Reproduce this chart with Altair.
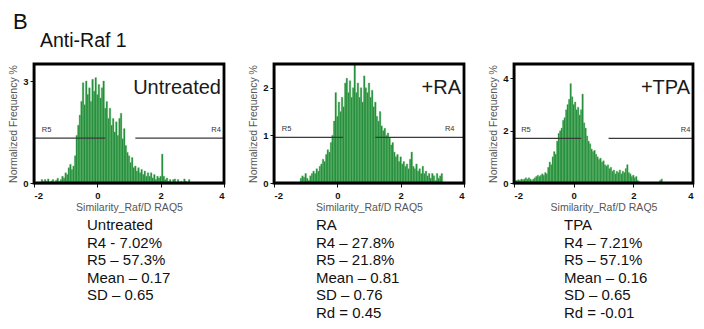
import altair as alt
import pandas as pd

FONT = "Liberation Sans"

panel_names = ["Untreated", "+RA", "+TPA"]
stat_lines = [
    ["Untreated", "R4 - 7.02%", "R5 – 57.3%", "Mean – 0.17", "SD – 0.65"],
    ["RA", "R4 – 27.8%", "R5 – 21.8%", "Mean – 0.81", "SD – 0.76", "Rd = 0.45"],
    ["TPA", "R4 – 7.21%", "R5 – 57.1%", "Mean – 0.16", "SD – 0.65", "Rd = -0.01"],
]
y_max = [3.5, 2.5, 4.55]
y_ticks = [[0, 1, 2, 3], [0, 0.5, 1, 1.5, 2, 2.5], [0, 1, 2, 3, 4]]
x_ticks = [-2, -1, 0, 1, 2, 3, 4]
x_domain = [-2, 4]
r5_span = [[-2, 0.25], [-2, 0.18], [-2, 0.25]]
r4_span = [[1.2, 4], [1.2, 4], [1.17, 4]]
gate_level = [1.32, 0.96, 1.71]
r5_label_x = [-1.6, -1.6, -1.6]
r4_label_x = [3.75, 3.55, 3.75]
stat_dx = [53, 42, 50]
bin_width = 0.05

untreated_x = [-1.75, -1.70, -1.65, -1.60, -1.55, -1.50, -1.45, -1.40, -1.35, -1.30,
               -1.25, -1.20, -1.15, -1.10, -1.05, -1.00, -0.95, -0.90, -0.85, -0.80,
               -0.75, -0.70, -0.65, -0.60, -0.55, -0.50, -0.45, -0.40, -0.35, -0.30,
               -0.25, -0.20, -0.15, -0.10, -0.05, 0.00, 0.05, 0.10, 0.15, 0.20,
               0.25, 0.30, 0.35, 0.40, 0.45, 0.50, 0.55, 0.60, 0.65, 0.70,
               0.75, 0.80, 0.85, 0.90, 0.95, 1.00, 1.05, 1.10, 1.15, 1.20,
               1.25, 1.30, 1.35, 1.40, 1.45, 1.50, 1.55, 1.60, 1.65, 1.70,
               1.75, 1.80, 1.85, 1.90, 1.95, 2.00, 2.05, 2.10, 2.15, 2.20,
               2.25, 2.30, 2.40, 2.45, 2.55, 2.65, 2.75, 2.80, 2.90]
untreated_freq = [0.10, 0.04, 0.10, 0.05, 0.12, 0.03, 0.06, 0.10, 0.03, 0.08,
                  0.14, 0.05, 0.10, 0.20, 0.15, 0.30, 0.25, 0.45, 0.55, 0.40,
                  0.50, 0.80, 1.40, 1.70, 2.00, 2.40, 2.95, 2.30, 3.00, 2.60,
                  2.80, 2.40, 3.05, 2.70, 3.10, 2.60, 2.90, 2.50, 2.80, 3.00,
                  2.20, 2.40, 1.90, 2.20, 1.70, 1.90, 1.50, 1.80, 1.40, 1.90,
                  2.05, 1.30, 1.60, 1.10, 0.90, 0.80, 0.60, 0.75, 0.45, 0.50,
                  0.35, 0.45, 0.30, 0.40, 0.25, 0.35, 0.20, 0.30, 0.20, 0.30,
                  0.15, 0.25, 0.10, 0.20, 0.15, 0.20, 0.85, 0.20, 0.10, 0.15,
                  0.05, 0.10, 0.10, 0.12, 0.10, 0.05, 0.12, 0.05, 0.10]

ra_x = [-1.15, -1.10, -1.05, -1.00, -0.95, -0.90, -0.85, -0.80, -0.75, -0.70,
        -0.65, -0.60, -0.55, -0.50, -0.45, -0.40, -0.35, -0.30, -0.25, -0.20,
        -0.15, -0.10, -0.05, 0.00, 0.05, 0.10, 0.15, 0.20, 0.25, 0.30,
        0.35, 0.40, 0.45, 0.50, 0.55, 0.60, 0.65, 0.70, 0.75, 0.80,
        0.85, 0.90, 0.95, 1.00, 1.05, 1.10, 1.15, 1.20, 1.25, 1.30,
        1.35, 1.40, 1.45, 1.50, 1.55, 1.60, 1.65, 1.70, 1.75, 1.80,
        1.85, 1.90, 1.95, 2.00, 2.05, 2.10, 2.15, 2.20, 2.25, 2.30,
        2.35, 2.40, 2.45, 2.50, 2.55, 2.60, 2.65, 2.70, 2.75, 2.80,
        2.85, 2.90, 2.95, 3.00, 3.05, 3.10, 3.15, 3.20, 3.25, 3.30]
ra_freq = [0.10, 0.15, 0.12, 0.20, 0.10, 0.05, 0.15, 0.20, 0.25, 0.20,
           0.30, 0.25, 0.35, 0.40, 0.50, 0.45, 0.60, 0.70, 0.65, 0.85,
           1.00, 1.30, 1.90, 1.40, 1.70, 1.50, 1.80, 1.60, 2.10, 2.20,
           1.90, 2.15, 1.80, 2.00, 2.50, 1.90, 2.10, 1.80, 2.00, 1.70,
           2.25, 2.00, 1.90, 2.10, 1.80, 1.95, 1.60, 1.70, 1.40, 1.30,
           1.50, 1.20, 1.10, 1.15, 1.00, 1.05, 0.95, 0.80, 0.85, 0.65,
           0.55, 0.60, 0.45, 0.55, 0.40, 0.45, 0.35, 0.40, 0.30, 0.50,
           0.65, 0.35, 0.30, 0.40, 0.25, 0.30, 0.20, 0.35, 0.20, 0.25,
           0.15, 0.20, 0.10, 0.20, 0.15, 0.05, 0.20, 0.10, 0.15, 0.20]

tpa_x = [-1.95, -1.90, -1.85, -1.80, -1.75, -1.70, -1.65, -1.60, -1.55, -1.50,
         -1.45, -1.40, -1.35, -1.30, -1.25, -1.20, -1.15, -1.10, -1.05, -1.00,
         -0.95, -0.90, -0.85, -0.80, -0.75, -0.70, -0.65, -0.60, -0.55, -0.50,
         -0.45, -0.40, -0.35, -0.30, -0.25, -0.20, -0.15, -0.10, -0.05, 0.00,
         0.05, 0.10, 0.15, 0.20, 0.25, 0.30, 0.35, 0.40, 0.45, 0.50,
         0.55, 0.60, 0.65, 0.70, 0.75, 0.80, 0.85, 0.90, 0.95, 1.00,
         1.05, 1.10, 1.15, 1.20, 1.25, 1.30, 1.35, 1.40, 1.45, 1.50,
         1.55, 1.60, 1.65, 1.70, 1.75, 1.80, 1.85, 1.90, 1.95, 2.00,
         2.05, 2.10, 2.15, 2.20, 2.90, 2.95]
tpa_freq = [0.10, 0.10, 0.12, 0.10, 0.15, 0.12, 0.15, 0.20, 0.15, 0.20,
            0.15, 0.10, 0.15, 0.20, 0.25, 0.30, 0.25, 0.30, 0.35, 0.30,
            0.40, 0.35, 0.60, 0.80, 0.70, 1.00, 1.20, 1.10, 1.60, 1.90,
            2.00, 2.10, 2.40, 2.50, 2.80, 3.00, 3.20, 3.80, 3.30, 3.00,
            3.10, 2.80, 2.90, 2.60, 2.80, 3.40, 2.30, 2.10, 1.80, 1.60,
            1.50, 1.30, 1.20, 1.25, 1.10, 1.00, 0.90, 0.95, 0.80, 0.85,
            0.70, 0.65, 0.70, 0.55, 0.60, 0.45, 0.50, 0.35, 0.45, 0.40,
            0.50, 0.35, 0.45, 0.40, 0.55, 0.70, 0.40, 0.35, 0.25, 0.30,
            0.20, 0.25, 0.10, 0.05, 0.10, 0.15]

hist_x = [untreated_x, ra_x, tpa_x]
hist_freq = [untreated_freq, ra_freq, tpa_freq]

WIDTHS = [190, 190, 179]
H = 119
GREEN = "#1c8739"


def panel(i):
    W = WIDTHS[i]
    df = pd.DataFrame({"center": hist_x[i], "freq": hist_freq[i]})
    df["x0"] = df["center"] - bin_width / 2
    df["x1"] = df["center"] + bin_width / 2

    y_ax = alt.Axis(
        values=y_ticks[i], title="Normalized Frequency %", grid=False,
        labelExpr="datum.value == 0.5 ? '.5' : datum.label",
        labelFont=FONT, labelFontSize=9.5, labelFontWeight="bold", labelColor="#111",
        titleFont=FONT, titleFontSize=10.5, titleFontWeight="normal", titleColor="#555",
        titlePadding=4, tickSize=4, tickColor="#111", domainColor="#111",
        domainWidth=1.5, labelPadding=2,
    )
    x_ax = alt.Axis(
        values=x_ticks, title="Similarity_Raf/D RAQ5", grid=False,
        labelExpr="(datum.value < 0 ? '-' : '') + abs(datum.value)",
        labelFont=FONT, labelFontSize=9.5, labelFontWeight="bold", labelColor="#111",
        titleFont=FONT, titleFontSize=10.5, titleFontWeight="normal", titleColor="#555",
        titlePadding=3, tickSize=4, tickColor="#111", domainColor="#111",
        domainWidth=1.5, labelPadding=3,
    )
    xs = alt.Scale(domain=x_domain, nice=False, zero=False)
    ys = alt.Scale(domain=[0, y_max[i]], nice=False)

    bars = alt.Chart(df).mark_bar(
        color=GREEN, stroke="#5fb862", strokeWidth=0.4, opacity=1
    ).encode(
        x=alt.X("x0:Q", scale=xs, axis=x_ax),
        x2="x1:Q",
        y=alt.Y("freq:Q", scale=ys, axis=y_ax),
        y2=alt.datum(0),
    )

    gates = pd.DataFrame({
        "a": [r5_span[i][0], r4_span[i][0]],
        "b": [r5_span[i][1], r4_span[i][1]],
        "lvl": [gate_level[i], gate_level[i]],
        "lab": ["R5", "R4"],
        "lx": [r5_label_x[i], r4_label_x[i]],
    })
    rules = alt.Chart(gates).mark_rule(color="#3a3a3a", strokeWidth=1.2).encode(
        x="a:Q", x2="b:Q", y="lvl:Q"
    )
    rlabels = alt.Chart(gates).mark_text(
        font=FONT, fontSize=7.5, color="#333", dy=-8
    ).encode(x="lx:Q", y="lvl:Q", text="lab:N")

    name = alt.Chart(pd.DataFrame({"t": [panel_names[i]]})).mark_text(
        font=FONT, fontSize=20, color="#1a1a1a", align="right", baseline="middle"
    ).encode(x=alt.value(W - 3), y=alt.value(24), text="t:N")

    # plot frame drawn as an outlined rectangle over the full domain
    box = pd.DataFrame({"xa": [x_domain[0]], "xb": [x_domain[1]],
                        "ya": [0], "yb": [y_max[i]]})
    frame = alt.Chart(box).mark_rect(
        fill="transparent", stroke="#000000", strokeWidth=2.8
    ).encode(x="xa:Q", x2="xb:Q", y="ya:Q", y2="yb:Q")

    layers = [bars, rules, rlabels, name, frame]
    if i == 0:
        head = pd.DataFrame({"t": ["B"]})
        sub = pd.DataFrame({"t": ["Anti-Raf 1"]})
        layers.append(alt.Chart(head).mark_text(
            font=FONT, fontSize=22, color="#111", align="left", baseline="alphabetic"
        ).encode(x=alt.value(-21), y=alt.value(-35), text="t:N"))
        layers.append(alt.Chart(sub).mark_text(
            font=FONT, fontSize=19.5, color="#111", align="left", baseline="alphabetic"
        ).encode(x=alt.value(6), y=alt.value(-17), text="t:N"))

    return alt.layer(*layers).properties(
        width=W, height=H,
        title=alt.TitleParams(
            stat_lines[i], orient="bottom", anchor="start", frame="group",
            dx=stat_dx[i],
            font=FONT, fontSize=15, fontWeight="normal", color="#111",
            lineHeight=17.6, offset=5,
        ),
    )


chart = alt.hconcat(panel(0), panel(1), panel(2), spacing=50, bounds="flush").properties(
    padding={"left": 0, "top": 3, "right": 0, "bottom": 0},
    background="white",
).configure_view(
    strokeWidth=0
)

chart.save("out.html", embed_options={"renderer": "svg", "actions": False})
